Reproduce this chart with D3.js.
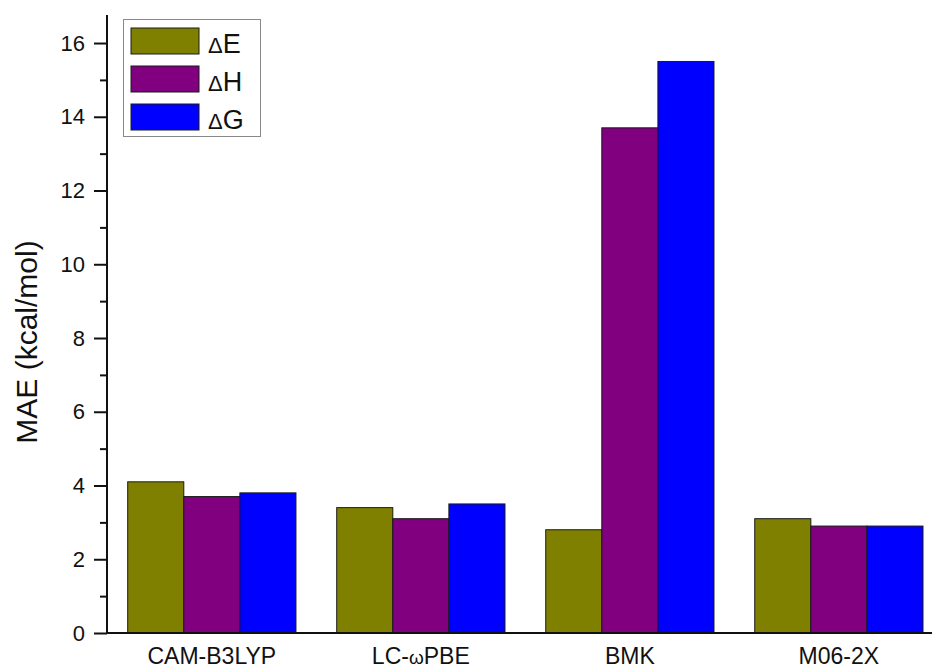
<!DOCTYPE html>
<html>
<head>
<meta charset="utf-8">
<script src="https://cdn.jsdelivr.net/npm/d3@7/dist/d3.min.js"></script>
<style>
  html, body { margin: 0; padding: 0; background: #fff; }
  svg { display: block; }
  text { font-family: Arial, "Liberation Sans", sans-serif; fill: #111; }
</style>
</head>
<body>
<svg id="chart" width="932" height="671"></svg>
<script>
const categories = ["CAM-B3LYP", "LC-ωPBE", "BMK", "M06-2X"];
const seriesNames = ["ΔE", "ΔH", "ΔG"];
const deltaE = [4.1, 3.4, 2.8, 3.1];
const deltaH = [3.7, 3.1, 13.7, 2.9];
const deltaG = [3.8, 3.5, 15.5, 2.9];
const seriesColors = ["#808000", "#800080", "#0000ff"];
const majorTicks = [0, 2, 4, 6, 8, 10, 12, 14, 16];
const minorTicks = [1, 3, 5, 7, 9, 11, 13, 15];
const yTitle = "MAE (kcal/mol)";

const seriesValues = [deltaE, deltaH, deltaG];

const svg = d3.select("#chart");
const axisX = 107, axisBottom = 633, axisTop = 15, axisRight = 932;

const y = d3.scaleLinear().domain([0, 16.76]).range([axisBottom, axisTop]);
const x0 = d3.scaleBand().domain(categories).range([127.7, 923]).paddingInner(0.195).paddingOuter(0);
const x1 = d3.scaleBand().domain(seriesNames).range([0, x0.bandwidth()]).padding(0);

// bars
const groups = svg.append("g").selectAll("g")
  .data(categories)
  .join("g")
  .attr("transform", d => `translate(${x0(d)},0)`);

groups.selectAll("rect")
  .data((d, i) => seriesNames.map((s, j) => ({ s, j, v: seriesValues[j][i] })))
  .join("rect")
  .attr("x", d => x1(d.s))
  .attr("y", d => y(d.v))
  .attr("width", x1.bandwidth())
  .attr("height", d => y(0) - y(d.v))
  .attr("fill", d => seriesColors[d.j])
  .attr("stroke", "#1a1a1a")
  .attr("stroke-width", 1);

// y axis (major)
const yAxis = d3.axisLeft(y).tickValues(majorTicks).tickSize(13).tickPadding(9).tickFormat(d3.format("d"));
const gy = svg.append("g").attr("transform", `translate(${axisX},0)`).call(yAxis);
gy.select(".domain").remove();
gy.selectAll(".tick line").attr("stroke", "#111").attr("stroke-width", 2);
gy.selectAll(".tick text").attr("font-size", 22).attr("font-family", "Arial, 'Liberation Sans', sans-serif").attr("fill", "#111");

// y axis (minor)
const yMinor = d3.axisLeft(y).tickValues(minorTicks).tickSize(7).tickFormat("");
const gym = svg.append("g").attr("transform", `translate(${axisX},0)`).call(yMinor);
gym.select(".domain").remove();
gym.selectAll(".tick line").attr("stroke", "#111").attr("stroke-width", 2);

// axis lines
svg.append("line").attr("x1", axisX).attr("x2", axisX).attr("y1", axisTop).attr("y2", axisBottom + 1)
  .attr("stroke", "#111").attr("stroke-width", 2);
svg.append("line").attr("x1", axisX - 1).attr("x2", axisRight).attr("y1", axisBottom).attr("y2", axisBottom)
  .attr("stroke", "#111").attr("stroke-width", 2);

// x labels
const xl = svg.append("g").selectAll("text")
  .data(categories)
  .join("text")
  .attr("x", d => x0(d) + x0.bandwidth() / 2)
  .attr("y", 664)
  .attr("text-anchor", "middle")
  .attr("font-size", 23);
xl.each(function(d) {
  const t = d3.select(this);
  const idx = d.indexOf("ω");
  if (idx >= 0) {
    t.append("tspan").text(d.slice(0, idx));
    t.append("tspan").attr("font-size", 19).text("ω");
    t.append("tspan").text(d.slice(idx + 1));
  } else {
    t.text(d);
  }
});

// y title
svg.append("text")
  .attr("transform", `translate(37,${342}) rotate(-90)`)
  .attr("text-anchor", "middle")
  .attr("font-size", 30)
  .text(yTitle);

// legend
const legend = svg.append("g");
legend.append("rect").attr("x", 123.5).attr("y", 19.5).attr("width", 137).attr("height", 117)
  .attr("fill", "#fff").attr("stroke", "#888").attr("stroke-width", 1);
const li = legend.selectAll("g.item").data(seriesNames).join("g").attr("class", "item")
  .attr("transform", (d, i) => `translate(131,${28 + i * 38})`);
li.append("rect").attr("width", 68).attr("height", 26).attr("fill", (d, i) => seriesColors[i])
  .attr("stroke", "#1a1a1a").attr("stroke-width", 1);
const lt = li.append("text").attr("x", 77).attr("y", 25).attr("font-size", 27);
lt.append("tspan").attr("font-size", 22).text(d => d[0]);
lt.append("tspan").text(d => d.slice(1));
</script>
</body>
</html>
